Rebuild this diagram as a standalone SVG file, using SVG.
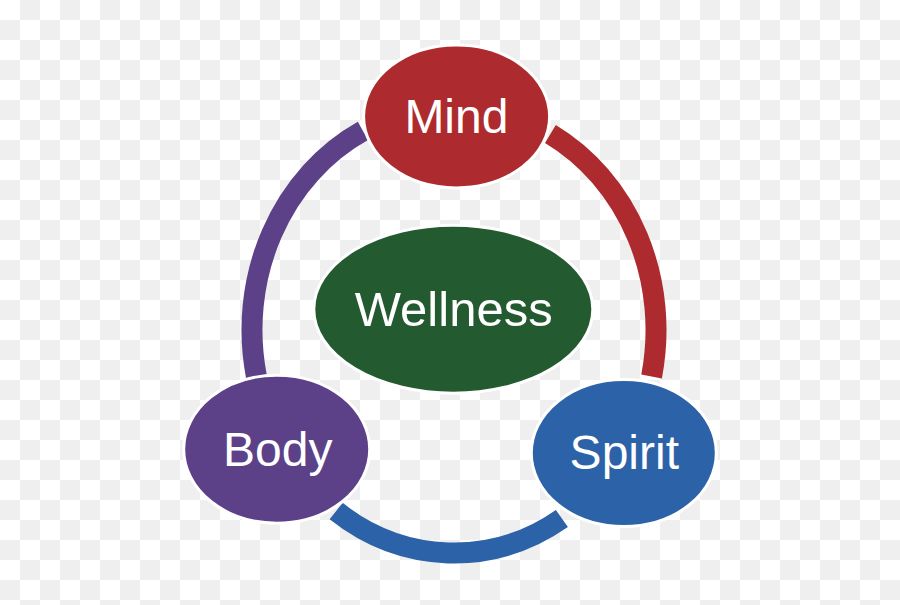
<svg xmlns="http://www.w3.org/2000/svg" width="900" height="605" viewBox="0 0 900 605">
  <style>
    .arc { fill: none; stroke-width: 21; stroke-linecap: butt; }
    .node { stroke: #ffffff; stroke-width: 3; }
    .label { font-family: "Liberation Sans", Arial, sans-serif; font-size: 48px; fill: #ffffff; text-anchor: middle; }
  </style>
  <defs>
    <pattern id="checker" x="0" y="0" width="40" height="40" patternUnits="userSpaceOnUse">
      <rect x="0" y="0" width="40" height="40" fill="#ffffff"/>
      <rect x="20" y="0" width="20" height="20" fill="#efefef"/>
      <rect x="0" y="20" width="20" height="20" fill="#efefef"/>
    </pattern>
  </defs>
  <rect x="0" y="0" width="900" height="605" fill="url(#checker)"/>

  <g id="connectors">
    <path class="arc" stroke="#ad2b2e" d="M 550.4 134.0 A 202 223 0 0 1 651.6 376.4"/>
    <path class="arc" stroke="#2c62a8" d="M 561.9 518.5 A 202 223 0 0 1 336.1 511.1"/>
    <path class="arc" stroke="#5c4189" d="M 256.4 376.4 A 202 223 0 0 1 362.9 130.9"/>
  </g>

  <g id="wellness">
    <ellipse class="node" cx="453.3" cy="309.2" rx="139.5" ry="84" fill="#245a2f"/>
    <text class="label" x="453.7" y="326" style="font-size:49px">Wellness</text>
  </g>
  <g id="mind">
    <ellipse class="node" cx="456.6" cy="116.4" rx="93" ry="71.5" fill="#ad2b2e"/>
    <text class="label" x="456.4" y="132.7">Mind</text>
  </g>
  <g id="body">
    <ellipse class="node" cx="276.7" cy="449.2" rx="93" ry="74" fill="#5c4189"/>
    <text class="label" x="277.7" y="466">Body</text>
  </g>
  <g id="spirit">
    <ellipse class="node" cx="623.8" cy="453" rx="92.5" ry="73.5" fill="#2c62a8"/>
    <text class="label" x="624.3" y="469">Spirit</text>
  </g>
</svg>
